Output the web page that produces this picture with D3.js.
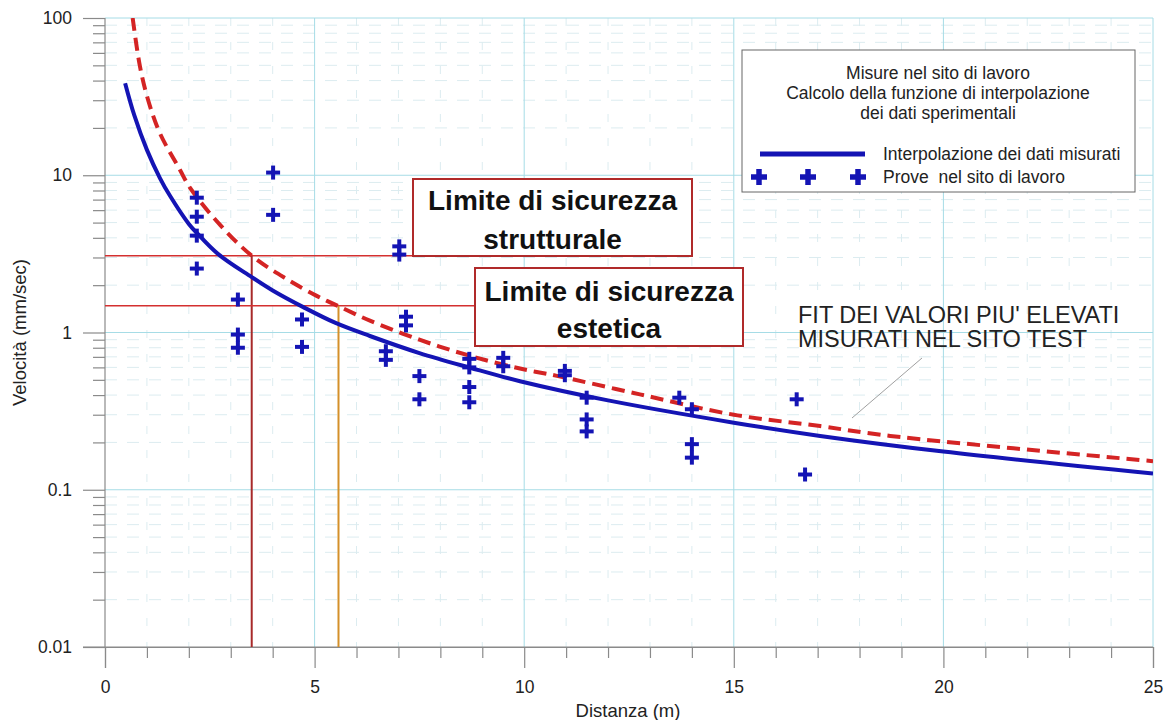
<!DOCTYPE html>
<html>
<head>
<meta charset="utf-8">
<script src="https://cdn.jsdelivr.net/npm/d3@7"></script>
<style>
  body { margin: 0; background: #fff; }
  text { font-family: "Liberation Sans", Arial, Helvetica, sans-serif; }
</style>
</head>
<body>
<svg id="chart" width="1169" height="720"></svg>
<script>
// Axis ticks
const xTicks = [0, 5, 10, 15, 20, 25];
const xMinorTicks = [1,2,3,4,6,7,8,9,11,12,13,14,16,17,18,19,21,22,23,24];
const yTicks = [0.01, 0.1, 1, 10, 100];
const yTickLabels = ["0.01", "0.1", "1", "10", "100"];

// Fitted curve of the measured data (distance m, velocity mm/s)
const fitDist = [0.48, 0.7, 1.0, 1.31, 1.55, 2.0, 2.19, 2.7, 3.5, 4.0, 4.73, 5.5, 6.32, 7.5, 8.71, 9.9, 12, 15, 17.06, 20, 25];
const fitVel  = [38.5, 24, 14.5, 9.6, 7.4, 4.9, 4.3, 3.15, 2.25, 1.85, 1.45, 1.15, 0.95, 0.74, 0.597, 0.49, 0.37, 0.267, 0.22, 0.175, 0.127];

// Fit of the highest measured values (dashed)
const upperDist = [0.66, 0.835, 1.03, 1.31, 1.79, 2.03, 2.74, 3.5, 4.33, 5.05, 5.57, 6.32, 7.5, 8.71, 9.9, 10.78, 12.76, 15, 17.06, 18.73, 25];
const upperVel  = [100, 49, 30, 18.5, 10.8, 8.3, 4.85, 3.08, 2.19, 1.71, 1.47, 1.19, 0.90, 0.71, 0.59, 0.53, 0.404, 0.30, 0.254, 0.22, 0.152];

// Field test measurements
const testDist = [2.19, 2.19, 2.19, 2.19, 3.17, 3.17, 3.17, 4.01, 4.01, 4.70, 4.70, 6.70, 6.70,
                  7.02, 7.02, 7.18, 7.18, 7.50, 7.50, 8.69, 8.69, 8.69, 8.69, 9.50, 9.50,
                  10.97, 10.97, 11.49, 11.49, 11.49, 13.70, 14.0, 14.0, 14.0, 16.5, 16.7];
const testVel  = [7.2, 5.45, 4.13, 2.55, 1.62, 0.97, 0.80, 10.4, 5.6, 1.21, 0.81, 0.76, 0.67,
                  3.53, 3.13, 1.26, 1.11, 0.528, 0.376, 0.68, 0.60, 0.45, 0.36, 0.69, 0.61,
                  0.57, 0.535, 0.385, 0.28, 0.235, 0.385, 0.325, 0.195, 0.16, 0.376, 0.125];

// Safety limits
const structuralLimit = 3.08, structuralDist = 3.5;
const aestheticLimit = 1.48, aestheticDist = 5.57;

const legendTitle = ["Misure nel sito di lavoro", "Calcolo della funzione di interpolazione", "dei dati sperimentali"];
const legendLabels = ["Interpolazione dei dati misurati", "Prove  nel sito di lavoro"];

const svg = d3.select("#chart");
const x = d3.scaleLinear().domain([0, 25]).range([105, 1153]);
const y = d3.scaleLog().domain([0.01, 100]).range([647, 18]);

const BLUE = "#1414b4", RED = "#d42424", DARKRED = "#b02a2a", GRID = "#a6dce6", MINOR = "#dcecf0";

// minor grid
const yMinor = [];
[0.01, 0.1, 1, 10].forEach(d => { for (let k = 2; k <= 9; k++) yMinor.push(d * k); });
svg.append("g").selectAll("line").data(yMinor).join("line")
  .attr("x1", x(0)).attr("x2", x(25)).attr("y1", d => y(d)).attr("y2", d => y(d))
  .attr("stroke", MINOR).attr("stroke-width", 1).attr("stroke-dasharray", "12,10");
svg.append("g").selectAll("line").data(xMinorTicks).join("line")
  .attr("x1", d => x(d)).attr("x2", d => x(d)).attr("y1", y(100)).attr("y2", y(0.01))
  .attr("stroke", MINOR).attr("stroke-width", 1).attr("stroke-dasharray", "8,16");

// major grid
svg.append("g").selectAll("line").data(yTicks.slice(1)).join("line")
  .attr("x1", x(0)).attr("x2", x(25)).attr("y1", d => y(d)).attr("y2", d => y(d))
  .attr("stroke", GRID).attr("stroke-width", 1);
svg.append("g").selectAll("line").data(xTicks.slice(1)).join("line")
  .attr("x1", d => x(d)).attr("x2", d => x(d)).attr("y1", y(100)).attr("y2", y(0.01))
  .attr("stroke", GRID).attr("stroke-width", 1);

// axes
const fontSize = 17.5;
const yAxis = svg.append("g").attr("transform", `translate(${x(0)},0)`)
  .call(d3.axisLeft(y).tickValues(yTicks).tickFormat((d, i) => yTickLabels[i]).tickSize(22).tickPadding(11));
const yAxisMinor = svg.append("g").attr("transform", `translate(${x(0)},0)`)
  .call(d3.axisLeft(y).tickValues(yMinor).tickFormat("").tickSize(12));
const xAxis = svg.append("g").attr("transform", `translate(0,${y(0.01)})`)
  .call(d3.axisBottom(x).tickValues(xTicks).tickFormat(d3.format("d")).tickSize(21).tickPadding(13));
const xAxisMinor = svg.append("g").attr("transform", `translate(0,${y(0.01)})`)
  .call(d3.axisBottom(x).tickValues(xMinorTicks).tickFormat("").tickSize(11));
[yAxis, yAxisMinor, xAxis, xAxisMinor].forEach(g => {
  g.select(".domain").attr("stroke", "#8a8a8a").attr("stroke-width", 1.2);
  g.selectAll(".tick line").attr("stroke", "#8a8a8a").attr("stroke-width", 1.2);
  g.selectAll(".tick text").attr("fill", "#222").attr("font-size", fontSize)
    .attr("font-family", "\"Liberation Sans\", Arial, sans-serif");
});
yAxis.select(".domain").remove();
yAxisMinor.select(".domain").remove();
xAxisMinor.select(".domain").remove();
svg.append("line").attr("x1", x(0)).attr("x2", x(0)).attr("y1", y(100)).attr("y2", y(0.01))
  .attr("stroke", "#8a8a8a").attr("stroke-width", 1.2);
svg.append("line").attr("x1", x(0) - 22).attr("x2", x(25)).attr("y1", y(0.01)).attr("y2", y(0.01))
  .attr("stroke", "#8a8a8a").attr("stroke-width", 1.2);

// axis titles
svg.append("text").attr("x", 628).attr("y", 717).attr("text-anchor", "middle")
  .attr("font-size", 18.5).attr("fill", "#222").text("Distanza (m)");
svg.append("text").attr("transform", `translate(26,${y(1)}) rotate(-90)`).attr("text-anchor", "middle")
  .attr("font-size", 18.5).attr("fill", "#222").text("Velocità (mm/sec)");

// safety limit lines
const limits = [
  { v: structuralLimit, d: structuralDist, xEnd: 413, color: "#d43030", vcolor: "#a82a2a" },
  { v: aestheticLimit, d: aestheticDist, xEnd: 475, color: "#d43030", vcolor: "#d4902a" }
];
limits.forEach(l => {
  svg.append("line").attr("x1", x(0)).attr("x2", l.xEnd).attr("y1", y(l.v)).attr("y2", y(l.v))
    .attr("stroke", l.color).attr("stroke-width", 1.5);
  svg.append("line").attr("x1", x(l.d)).attr("x2", x(l.d)).attr("y1", y(l.v)).attr("y2", y(0.01))
    .attr("stroke", l.vcolor).attr("stroke-width", 2);
});

// clip for curves
svg.append("clipPath").attr("id", "plotClip").append("rect")
  .attr("x", x(0)).attr("y", y(100)).attr("width", x(25) - x(0)).attr("height", y(0.01) - y(100));

const line = d3.line().x(d => x(d[0])).y(d => y(d[1])).curve(d3.curveCatmullRom.alpha(0.5));
svg.append("path").datum(fitDist.map((d, i) => [d, fitVel[i]]))
  .attr("clip-path", "url(#plotClip)")
  .attr("d", line).attr("fill", "none").attr("stroke", BLUE).attr("stroke-width", 4);
svg.append("path").datum(upperDist.map((d, i) => [d, upperVel[i]]))
  .attr("clip-path", "url(#plotClip)")
  .attr("d", line).attr("fill", "none").attr("stroke", RED).attr("stroke-width", 4)
  .attr("stroke-dasharray", "13,7");

// test points as plus markers
function plus(g, cx, cy, size, w) {
  g.append("line").attr("x1", cx - size / 2).attr("x2", cx + size / 2).attr("y1", cy).attr("y2", cy)
    .attr("stroke", BLUE).attr("stroke-width", w);
  g.append("line").attr("x1", cx).attr("x2", cx).attr("y1", cy - size / 2).attr("y2", cy + size / 2)
    .attr("stroke", BLUE).attr("stroke-width", w);
}
const pts = svg.append("g");
testDist.forEach((d, i) => plus(pts, x(d), y(testVel[i]), 14, 4));

// limit labels
function labelBox(x0, y0, x1, y1, lines, baselines) {
  const g = svg.append("g");
  g.append("rect").attr("x", x0).attr("y", y0).attr("width", x1 - x0).attr("height", y1 - y0)
    .attr("fill", "#fff").attr("stroke", DARKRED).attr("stroke-width", 2);
  lines.forEach((t, i) => g.append("text").attr("x", (x0 + x1) / 2).attr("y", baselines[i])
    .attr("text-anchor", "middle").attr("font-size", 28).attr("font-weight", "bold")
    .attr("fill", "#111").text(t));
}
labelBox(413, 179, 692, 256, ["Limite di sicurezza", "strutturale"], [210, 249]);
labelBox(475, 268, 743, 346, ["Limite di sicurezza", "estetica"], [301, 338]);

// annotation of the upper fit
svg.append("line").attr("x1", 922).attr("y1", 358).attr("x2", 852).attr("y2", 418)
  .attr("stroke", "#a0a0a0").attr("stroke-width", 1);
const ann = svg.append("text").attr("x", 798).attr("font-size", 23.5).attr("fill", "#222");
ann.append("tspan").attr("x", 798).attr("y", 323).text("FIT DEI VALORI PIU' ELEVATI");
ann.append("tspan").attr("x", 798).attr("y", 347).text("MISURATI NEL SITO TEST");

// legend
const lg = svg.append("g");
lg.append("rect").attr("x", 742).attr("y", 50).attr("width", 393).attr("height", 142)
  .attr("fill", "#fff").attr("stroke", "#666").attr("stroke-width", 1);
legendTitle.forEach((t, i) => lg.append("text").attr("x", 938).attr("y", 79 + i * 20)
  .attr("text-anchor", "middle").attr("font-size", 17.5).attr("fill", "#222").text(t));
lg.append("line").attr("x1", 760).attr("x2", 865).attr("y1", 154).attr("y2", 154)
  .attr("stroke", BLUE).attr("stroke-width", 5);
[759, 808, 858].forEach(cx => plus(lg, cx, 177, 16, 5.5));
legendLabels.forEach((t, i) => lg.append("text").attr("x", 883).attr("y", 160 + i * 23)
  .attr("font-size", 17.5).attr("fill", "#222").style("white-space", "pre").text(t));
</script>
</body>
</html>
